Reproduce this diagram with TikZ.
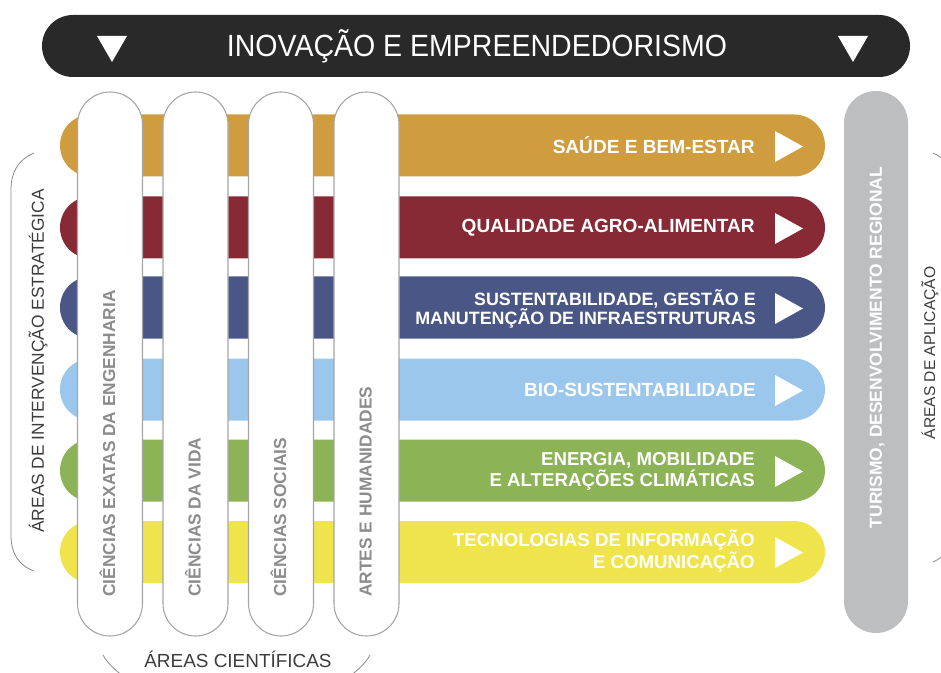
\documentclass[tikz,border=0pt]{standalone}
\usepackage{fontspec}
\setmainfont{Liberation Sans}
\newfontfamily\condfont[FakeStretch=0.93]{Liberation Sans}
\definecolor{cOrange}{HTML}{D09C40}
\definecolor{cRed}{HTML}{872A35}
\definecolor{cBlue}{HTML}{4A5786}
\definecolor{cLight}{HTML}{9BC7EC}
\definecolor{cGreen}{HTML}{8DB357}
\definecolor{cYellow}{HTML}{F0E44C}
\definecolor{cGrayPill}{HTML}{BDBEC0}
\definecolor{cBanner}{HTML}{2A2929}
\definecolor{cOutline}{HTML}{A5A5A5}
\definecolor{cSciText}{HTML}{8C8C8C}
\definecolor{cLabel}{HTML}{3C3C3C}
\definecolor{cBracket}{HTML}{8A8A8A}
\begin{document}
\begin{tikzpicture}[x=0.75pt,y=-0.75pt,
  band/.style={rectangle, rounded corners=23.25pt, minimum width=573.75pt, minimum height=46.5pt, inner sep=0pt, outer sep=0pt},
  sci/.style={rectangle, rounded corners=24.375pt, minimum width=48.75pt, minimum height=408pt, fill=white, draw=cOutline, line width=0.8pt, inner sep=0pt},
  bandtext/.style={anchor=east, align=right, text=white, inner sep=0pt, font=\bfseries\fontsize{14.3}{15}\selectfont},
  bandtexttwo/.style={anchor=east, align=right, text=white, inner sep=0pt, font=\bfseries\fontsize{14}{14.5}\selectfont},
  scitext/.style={rotate=90, anchor=base west, inner sep=0pt, text=cSciText, font=\bfseries\fontsize{13}{15}\selectfont},
  arealabel/.style={inner sep=0pt, text=cLabel},
  bracket/.style={draw=cBracket, line width=0.6pt},
  tri/.style={fill=white}]
\useasboundingbox (0,0) rectangle (941,673);
\clip (0,0) rectangle (941,673);

% bands
\node[band, fill=cOrange] (b1) at (442.5,145.5) {};
\node[band, fill=cRed] (b2) at (442.5,227.5) {};
\node[band, fill=cBlue] (b3) at (442.5,307.5) {};
\node[band, fill=cLight] (b4) at (442.5,389.5) {};
\node[band, fill=cGreen] (b5) at (442.5,470.5) {};
\node[band, fill=cYellow] (b6) at (442.5,552) {};

% band texts
\node[bandtext] (t1) at (755,145.5) {SAÚDE E BEM-ESTAR};
\node[bandtext] (t2) at (755,228) {QUALIDADE AGRO-ALIMENTAR};
\node[bandtexttwo, font=\bfseries\fontsize{13.4}{14.5}\selectfont] (t3) at (756,309) {SUSTENTABILIDADE, GESTÃO E\\MANUTENÇÃO DE INFRAESTRUTURAS};
\node[bandtext] (t4) at (756,390) {BIO-SUSTENTABILIDADE};
\node[bandtexttwo] (t5) at (755,471) {ENERGIA, MOBILIDADE\\E ALTERAÇÕES CLIMÁTICAS};
\node[bandtexttwo] (t6) at (755,551) {TECNOLOGIAS DE INFORMAÇÃO\\E COMUNICAÇÃO};

% band arrows
\foreach \c in {146.5,228.5,308.5,390.5,471.5,552.5}{
  \fill[tri] (775,\c-15.5) -- (803,\c) -- (775,\c+15.5) -- cycle;
}

% scientific area pills
\node[sci] (s1) at (110,364) {};
\node[sci] (s2) at (195.5,364) {};
\node[sci] (s3) at (281,364) {};
\node[sci] (s4) at (366.5,364) {};
\node[scitext] (st1) at (115,597) {CIÊNCIAS EXATAS DA ENGENHARIA};
\node[scitext] (st2) at (200.5,597) {CIÊNCIAS DA VIDA};
\node[scitext] (st3) at (286,597) {CIÊNCIAS SOCIAIS};
\node[scitext] (st4) at (371.5,597) {ARTES E HUMANIDADES};

% application pill
\node[rectangle, rounded corners=24pt, minimum width=48pt, minimum height=406.5pt, fill=cGrayPill, inner sep=0pt] (ap) at (876,362) {};
\node[rotate=90, text=white, inner sep=0pt, font=\bfseries\fontsize{13.1}{15}\selectfont] (apt) at (877,347.5) {TURISMO, DESENVOLVIMENTO REGIONAL};

% top banner
\node[rectangle, rounded corners=23.25pt, minimum width=651pt, minimum height=46.5pt, fill=cBanner, inner sep=0pt] (ban) at (476,46) {};
\node[text=white, inner sep=0pt, font=\condfont\fontsize{23}{26}\selectfont] (bant) at (477,46) {INOVAÇÃO E EMPREENDEDORISMO};
\fill[tri] (97,36) -- (127,36) -- (112,62) -- cycle;
\fill[tri] (838,36) -- (868,36) -- (853,62) -- cycle;

% area labels
\node[arealabel, rotate=90, font=\fontsize{13}{15}\selectfont] (la) at (38,361) {ÁREAS DE INTERVENÇÃO ESTRATÉGICA};
\node[arealabel, font=\fontsize{14.2}{16}\selectfont] (lb) at (238,659) {ÁREAS CIENTÍFICAS};
\node[arealabel, rotate=90, font=\fontsize{11.7}{14}\selectfont] (lc) at (930,353) {ÁREAS DE APLICAÇÃO};

% brackets
\draw[bracket] (34,153) .. controls (18,160) and (11,172) .. (11,190) -- (11,535) .. controls (11,553) and (18,565) .. (34,571);
\draw[bracket] (933,153) .. controls (945,158) and (952,168) .. (954,185);
\draw[bracket] (933,562) .. controls (945,557) and (952,547) .. (954,530);
\draw[bracket] (103,655) .. controls (108,664) and (115,670) .. (128,680);
\draw[bracket] (370,655) .. controls (365,664) and (358,670) .. (345,680);
\end{tikzpicture}
\end{document}
